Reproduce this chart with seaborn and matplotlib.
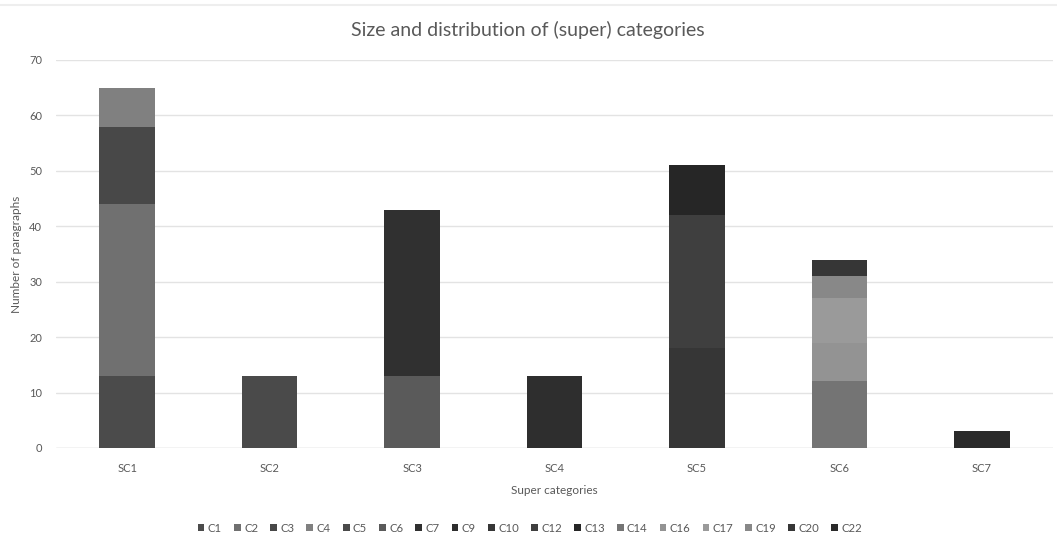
import matplotlib
matplotlib.use("Agg")
import matplotlib.pyplot as plt
import seaborn as sns
import pandas as pd
import numpy as np
from matplotlib.patches import Patch

supercats = ["SC1", "SC2", "SC3", "SC4", "SC5", "SC6", "SC7"]
categories = ["C1", "C2", "C3", "C4", "C5", "C6", "C7", "C9", "C10", "C12",
              "C13", "C14", "C16", "C17", "C19", "C20", "C22"]
category_super = ["SC1", "SC1", "SC1", "SC1", "SC2", "SC3", "SC3", "SC4", "SC5", "SC5",
                  "SC5", "SC6", "SC6", "SC6", "SC6", "SC6", "SC7"]
counts = [13, 31, 14, 7, 13, 13, 30, 13, 18, 24, 9, 12, 7, 8, 4, 3, 3]
colors = ["#4b4b4b", "#707070", "#484848", "#808080", "#4a4a4a", "#5a5a5a", "#303030",
          "#2e2e2e", "#363636", "#3f3f3f", "#262626", "#747474", "#939393", "#9a9a9a",
          "#888888", "#363636", "#2a2a2a"]

sns.set_theme(style="white")
plt.rcParams["font.family"] = ["Lato", "DejaVu Sans"]
text_col = "#595959"

# wide table: one column per category, rows = super categories
table = pd.DataFrame(0.0, index=supercats, columns=categories)
for c, s, v in zip(categories, category_super, counts):
    table.loc[s, c] = v
cum = table.cumsum(axis=1)

fig = plt.figure(figsize=(10.57, 5.41), dpi=100)
ax = fig.add_axes([56 / 1057, 1 - 448 / 541, (1053 - 56) / 1057, (448 - 60) / 541])

# draw from the top segment down so lower segments cover upper cumulative bars
for c, col in reversed(list(zip(categories, colors))):
    df = pd.DataFrame({"sc": supercats, "top": cum[c].values})
    sns.barplot(data=df, x="sc", y="top", color=col, saturation=1, width=0.39,
                linewidth=0, ax=ax, order=supercats)

ax.set_ylim(0, 70)
ax.set_yticks(np.arange(0, 71, 10))
ax.yaxis.grid(True, color="#e3e3e3", linewidth=1)
ax.set_axisbelow(True)
for sp in ax.spines.values():
    sp.set_visible(False)
ax.axhline(0, color="#dadada", linewidth=1, zorder=0.5)
ax.tick_params(axis="both", length=0, labelsize=8, colors=text_col)
ax.tick_params(axis="x", pad=11)
ax.tick_params(axis="y", pad=10)
ax.set_xlabel("Super categories", fontsize=8.5, color=text_col, labelpad=8)
ax.set_ylabel("Number of paragraphs", fontsize=8.5, color=text_col, labelpad=5)

fig.text(528 / 1057, 1 - 30 / 541, "Size and distribution of (super) categories",
         ha="center", va="center", fontsize=14, color=text_col)

handles = [Patch(facecolor=col, edgecolor="none") for col in colors]
leg = fig.legend(handles, categories, loc="center", bbox_to_anchor=(530 / 1057, 1 - 528 / 541),
                 ncol=len(categories), frameon=False, fontsize=8.2, handlelength=0.6,
                 handleheight=0.6, handletextpad=0.3, columnspacing=1.05)
for t in leg.get_texts():
    t.set_color(text_col)

fig.add_artist(plt.Line2D([0, 1], [1 - 5 / 541, 1 - 5 / 541], color="#eeeeee", linewidth=1.5))

fig.savefig("out.png", dpi=100, facecolor="white")
